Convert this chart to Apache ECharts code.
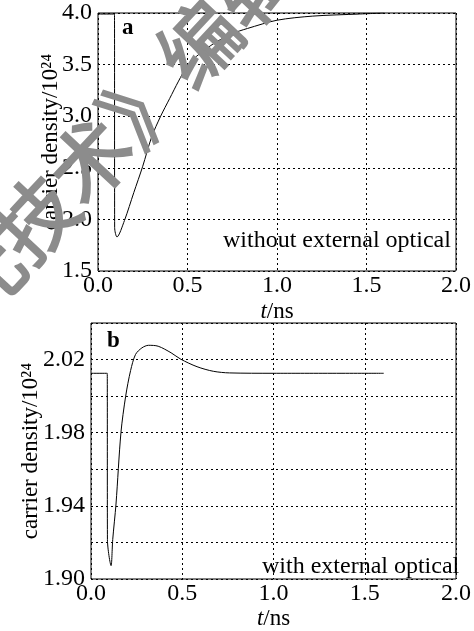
<!DOCTYPE html>
<html>
<head>
<meta charset="utf-8">
<script src="https://cdn.jsdelivr.net/npm/echarts@6/dist/echarts.min.js"></script>
<style>
  html, body { margin: 0; padding: 0; background: #fff; }
  #chart { width: 474px; height: 631px; }
</style>
</head>
<body>
<div id="chart"></div>
<script>
// (a) without external optical  - time in ns, density in 10^24
var timeA = [0, 0.092, 0.093, 0.106, 0.148, 0.20, 0.249, 0.30, 0.35, 0.40, 0.45, 0.496, 0.55, 0.652, 0.75, 0.835, 1.0, 1.2, 1.46, 1.6]
var densA = [3.99, 3.99, 1.92, 1.83, 1.99, 2.26, 2.51, 2.80, 3.0, 3.17, 3.34, 3.48, 3.58, 3.71, 3.80, 3.85, 3.93, 3.97, 3.99, 4.0]

// (b) with external optical
var timeB = [0, 0.089, 0.090, 0.110, 0.119, 0.137, 0.164, 0.19, 0.217, 0.244, 0.279, 0.315, 0.368, 0.439, 0.492, 0.581, 0.670, 0.759, 1.0, 1.604]
var densB = [2.0125, 2.0125, 1.9215, 1.9073, 1.9215, 1.941, 1.980, 2.000, 2.014, 2.0228, 2.0264, 2.0278, 2.0273, 2.0237, 2.0202, 2.0161, 2.0136, 2.0127, 2.0125, 2.0125]

var xTicks = [0, 0.5, 1.0, 1.5, 2.0]
var yTicksA = [1.5, 2.0, 2.5, 3.0, 3.5, 4.0]
var yLabelsB = [1.90, 1.94, 1.98, 2.02]

var serif = '"Liberation Serif", "DejaVu Serif", serif'

function pairs(xs, ys) {
  return xs.map(function (x, i) { return [x, ys[i]] })
}

var myChart = echarts.init(document.getElementById('chart'))

var gridLine = { show: true, lineStyle: { color: '#000', width: 1, type: [2, 3] } }
var labelFont = { color: '#000', fontFamily: serif, fontSize: 24 }

function xAxisCfg(idx, gap) {
  return {
    type: 'value', gridIndex: idx, min: xTicks[0], max: xTicks[xTicks.length - 1], interval: 0.5,
    axisLine: { show: false }, axisTick: { show: false },
    axisLabel: Object.assign({ margin: 3, formatter: function (v) { return v.toFixed(1) } }, labelFont),
    splitLine: gridLine,
    name: '{i|t}/ns', nameLocation: 'middle', nameGap: gap,
    nameTextStyle: { color: '#000', fontFamily: serif, fontSize: 23,
      rich: { i: { fontStyle: 'italic', fontFamily: serif, fontSize: 23, color: '#000' } } }
  }
}

var option = {
  animation: false,
  grid: [
    { left: 98, top: 13, width: 364, height: 258, show: true, borderColor: '#000', borderWidth: 1 },
    { left: 91, top: 323, width: 375, height: 264, show: true, borderColor: '#000', borderWidth: 1 }
  ],
  xAxis: [xAxisCfg(0, 29), xAxisCfg(1, 28)],
  yAxis: [
    {
      type: 'value', gridIndex: 0, min: yTicksA[0], max: yTicksA[yTicksA.length - 1], interval: 0.5,
      axisLine: { show: false }, axisTick: { show: false },
      axisLabel: Object.assign({ margin: 6, formatter: function (v) { return v.toFixed(1) } }, labelFont),
      splitLine: gridLine,
      name: 'carrier density/10²⁴', nameLocation: 'middle', nameGap: 36, nameRotate: 90,
      nameMoveOverlap: false,
      nameTextStyle: { color: '#000', fontFamily: serif, fontSize: 23 }
    },
    {
      type: 'value', gridIndex: 1, min: 1.90, max: 2.04, interval: 0.02,
      axisLine: { show: false }, axisTick: { show: false },
      axisLabel: Object.assign({ margin: 6, formatter: function (v) {
        var hit = yLabelsB.some(function (t) { return Math.abs(t - v) < 1e-6 })
        return hit ? v.toFixed(2) : ''
      } }, labelFont),
      splitLine: gridLine,
      name: 'carrier density/10²⁴', nameLocation: 'middle', nameGap: 49, nameRotate: 90,
      nameMoveOverlap: false,
      nameTextStyle: { color: '#000', fontFamily: serif, fontSize: 23 }
    }
  ],
  series: [
    {
      type: 'line', xAxisIndex: 0, yAxisIndex: 0, data: pairs(timeA, densA),
      smooth: 0.3, showSymbol: false, lineStyle: { color: '#000', width: 1 }
    },
    {
      type: 'line', xAxisIndex: 1, yAxisIndex: 1, data: pairs(timeB, densB),
      smooth: 0.3, showSymbol: false, lineStyle: { color: '#000', width: 1 }
    }
  ],
  graphic: [
    { type: 'text', left: 122, top: 17, style: { text: 'a', font: 'bold 23px ' + serif, fill: '#000' } },
    { type: 'text', left: 107, top: 330, style: { text: 'b', font: 'bold 23px ' + serif, fill: '#000' } },
    { type: 'text', left: 223, top: 229, style: { text: 'without external optical', font: '24px ' + serif, fill: '#000' } },
    { type: 'text', left: 262, top: 555, style: { text: 'with external optical', font: '24px ' + serif, fill: '#000' } },
    // 水印
    { type: 'text', x: 90, y: 160, rotation: 0.82, z: 100,
      style: { text: '《激光技术》编辑部', font: '80px "Noto Sans CJK SC"', fill: '#8c8c8c',
        stroke: '#8c8c8c', lineWidth: 2, align: 'center', verticalAlign: 'middle' } }
  ]
}

myChart.setOption(option)
</script>
</body>
</html>
